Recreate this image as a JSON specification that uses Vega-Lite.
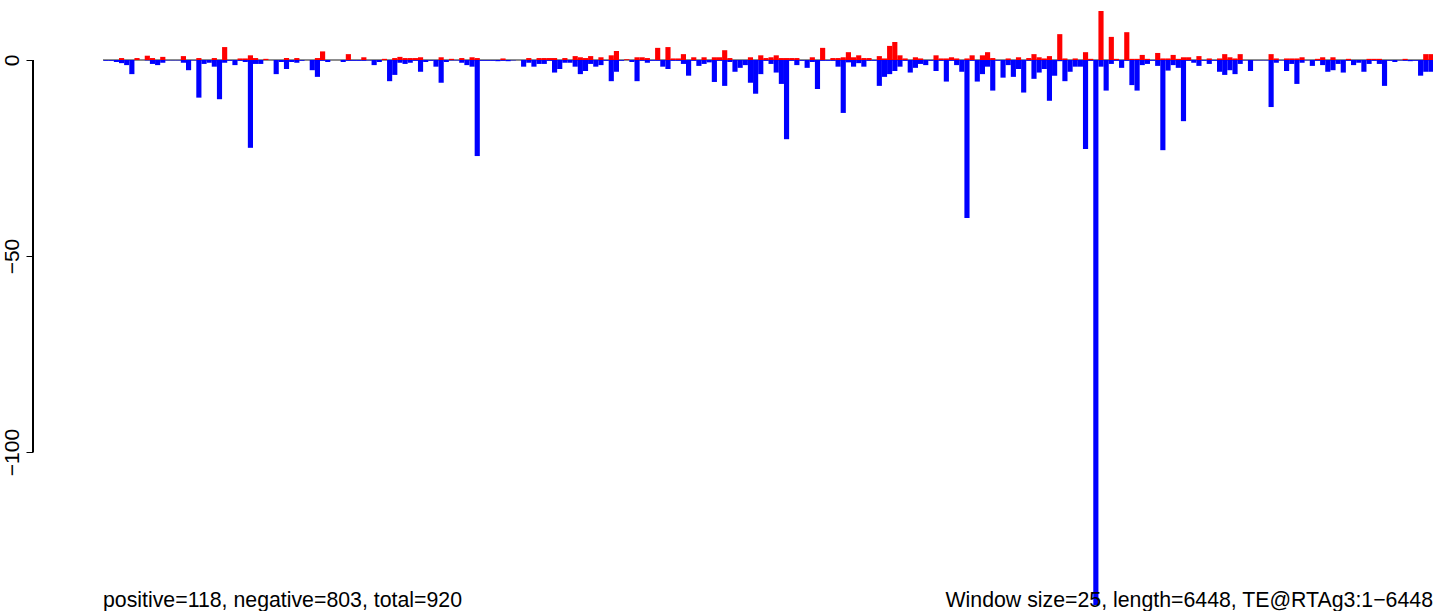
{
  "$schema": "https://vega.github.io/schema/vega-lite/v6.json",
  "width": 1400,
  "height": 611,
  "autosize": {"type": "none"},
  "padding": {"left": 33, "top": 0, "right": 0, "bottom": 0},
  "background": "white",
  "view": {"stroke": null},
  "config": {"font": "Liberation Sans"},
  "data": {"values": [
    {"i":0,"p":0,"n":-0.2},{"i":1,"p":0,"n":-0.2},{"i":2,"p":0,"n":-0.5},{"i":3,"p":0.5,"n":-0.8},{"i":4,"p":0,"n":-1.3},
    {"i":5,"p":0,"n":-3.6},{"i":6,"p":0.5,"n":0},{"i":7,"p":0,"n":0},{"i":8,"p":1.1,"n":-0.1},{"i":9,"p":0.5,"n":-1.0},
    {"i":10,"p":0,"n":-1.3},{"i":11,"p":0.8,"n":-0.7},{"i":12,"p":0,"n":-0.1},{"i":13,"p":0,"n":-0.1},{"i":14,"p":0,"n":-0.1},
    {"i":15,"p":1,"n":-0.7},{"i":16,"p":0,"n":-2.6},{"i":17,"p":0,"n":-0.1},{"i":18,"p":0.5,"n":-9.6},{"i":19,"p":0,"n":-1},
    {"i":20,"p":0,"n":-0.7},{"i":21,"p":0.5,"n":-1.7},{"i":22,"p":0,"n":-10},{"i":23,"p":3.3,"n":-0.7},{"i":24,"p":0,"n":-0.2},
    {"i":25,"p":0,"n":-1.3},{"i":26,"p":0.4,"n":-0.2},{"i":27,"p":0.4,"n":-0.5},{"i":28,"p":1.2,"n":-22.4},{"i":29,"p":0.5,"n":-1},
    {"i":30,"p":0,"n":-1},{"i":31,"p":0.3,"n":0},{"i":32,"p":0,"n":0},{"i":33,"p":0,"n":-3.6},{"i":34,"p":0,"n":-0.5},
    {"i":35,"p":0.5,"n":-2.3},{"i":36,"p":0,"n":-0.5},{"i":37,"p":0.5,"n":-0.7},{"i":38,"p":0,"n":-0.2},{"i":39,"p":0,"n":0},
    {"i":40,"p":0,"n":-2.6},{"i":41,"p":0.5,"n":-4.3},{"i":42,"p":2.2,"n":-0.2},{"i":43,"p":0,"n":-0.5},{"i":44,"p":0,"n":0},
    {"i":45,"p":0,"n":0},{"i":46,"p":0,"n":-0.5},{"i":47,"p":1.5,"n":-0.2},{"i":48,"p":0,"n":-0.2},{"i":49,"p":0,"n":-0.2},
    {"i":50,"p":0.7,"n":-0.2},{"i":51,"p":0,"n":-0.1},{"i":52,"p":0,"n":-1.3},{"i":53,"p":0,"n":-0.5},{"i":54,"p":0.3,"n":0},
    {"i":55,"p":0,"n":-5.4},{"i":56,"p":0.5,"n":-3.8},{"i":57,"p":0.8,"n":-0.7},{"i":58,"p":0.5,"n":-1},{"i":59,"p":0.5,"n":-0.7},
    {"i":60,"p":0.5,"n":-0.2},{"i":61,"p":0.7,"n":-3},{"i":62,"p":0,"n":-0.5},{"i":63,"p":0,"n":-0.2},{"i":64,"p":0,"n":-1.7},
    {"i":65,"p":0.7,"n":-5.8},{"i":66,"p":0,"n":-0.5},{"i":67,"p":0.3,"n":-0.1},{"i":68,"p":0,"n":-0.1},{"i":69,"p":0.5,"n":-0.7},
    {"i":70,"p":0,"n":-1.3},{"i":71,"p":0.7,"n":-1.7},{"i":72,"p":0.5,"n":-24.5},{"i":73,"p":0,"n":-0.2},{"i":74,"p":0,"n":-0.2},
    {"i":75,"p":0,"n":-0.2},{"i":76,"p":0,"n":-0.3},{"i":77,"p":0.4,"n":-0.2},{"i":78,"p":0,"n":-0.3},{"i":79,"p":0,"n":-0.1},
    {"i":80,"p":0,"n":0},{"i":81,"p":0,"n":-1.7},{"i":82,"p":0.5,"n":-0.7},{"i":83,"p":0,"n":-1.7},{"i":84,"p":0.5,"n":-1},
    {"i":85,"p":0.5,"n":-1},{"i":86,"p":0.5,"n":-0.2},{"i":87,"p":0.5,"n":-3.2},{"i":88,"p":0,"n":-2.3},{"i":89,"p":0.5,"n":-0.7},
    {"i":90,"p":0,"n":-0.7},{"i":91,"p":1,"n":-1.7},{"i":92,"p":0.7,"n":-3.6},{"i":93,"p":0.5,"n":-2.8},{"i":94,"p":1,"n":-1},
    {"i":95,"p":0,"n":-1.7},{"i":96,"p":0.7,"n":-1.3},{"i":97,"p":0,"n":-0.2},{"i":98,"p":1.2,"n":-5.4},{"i":99,"p":2.3,"n":-3},
    {"i":100,"p":0,"n":-0.2},{"i":101,"p":0.2,"n":0},{"i":102,"p":0,"n":-0.5},{"i":103,"p":0.7,"n":-5.4},{"i":104,"p":0.7,"n":-0.2},
    {"i":105,"p":0.5,"n":-0.7},{"i":106,"p":0,"n":-0.2},{"i":107,"p":3.1,"n":-0.2},{"i":108,"p":0,"n":-1.7},{"i":109,"p":3.3,"n":-2.3},
    {"i":110,"p":0.4,"n":-0.2},{"i":111,"p":0.4,"n":-0.2},{"i":112,"p":1.5,"n":-1},{"i":113,"p":0,"n":-4},{"i":114,"p":0.7,"n":-0.2},
    {"i":115,"p":0,"n":-1.5},{"i":116,"p":0.7,"n":-1},{"i":117,"p":0,"n":-0.6},{"i":118,"p":0.7,"n":-5.6},{"i":119,"p":0.7,"n":-0.2},
    {"i":120,"p":2.5,"n":-6.6},{"i":121,"p":0.5,"n":-0.5},{"i":122,"p":0,"n":-3},{"i":123,"p":0,"n":-2},{"i":124,"p":0,"n":-1.3},
    {"i":125,"p":0.7,"n":-5.8},{"i":126,"p":0,"n":-8.6},{"i":127,"p":1.2,"n":-3.6},{"i":128,"p":0.5,"n":-0.2},{"i":129,"p":0.7,"n":-1},
    {"i":130,"p":1.2,"n":-3.2},{"i":131,"p":0.5,"n":-6.1},{"i":132,"p":0.5,"n":-20.2},{"i":133,"p":0.5,"n":-0.2},{"i":134,"p":0.5,"n":-1.3},
    {"i":135,"p":0,"n":-0.2},{"i":136,"p":0,"n":-2},{"i":137,"p":0.7,"n":-0.5},{"i":138,"p":0,"n":-7.4},{"i":139,"p":3.1,"n":-0.2},
    {"i":140,"p":0,"n":-0.2},{"i":141,"p":0.5,"n":-0.2},{"i":142,"p":0.5,"n":-1.7},{"i":143,"p":0.7,"n":-13.5},{"i":144,"p":2,"n":-0.6},
    {"i":145,"p":0.7,"n":-1.7},{"i":146,"p":1.2,"n":-0.8},{"i":147,"p":0.5,"n":-1.7},{"i":148,"p":0.5,"n":-0.2},{"i":149,"p":0,"n":-0.2},
    {"i":150,"p":1,"n":-6.6},{"i":151,"p":0.4,"n":-4.3},{"i":152,"p":3.6,"n":-3.6},{"i":153,"p":4.6,"n":-2.8},{"i":154,"p":1.2,"n":-1.7},
    {"i":155,"p":0.4,"n":-0.2},{"i":156,"p":0,"n":-3.2},{"i":157,"p":0.7,"n":-2},{"i":158,"p":0.4,"n":-1},{"i":159,"p":0,"n":-1.3},
    {"i":160,"p":0,"n":-0.2},{"i":161,"p":1.2,"n":-2.8},{"i":162,"p":0.4,"n":-0.2},{"i":163,"p":0.4,"n":-5.5},{"i":164,"p":0.7,"n":-0.2},
    {"i":165,"p":0.4,"n":-1.3},{"i":166,"p":0,"n":-3},{"i":167,"p":0.4,"n":-40.3},{"i":168,"p":1.2,"n":-0.2},{"i":169,"p":0,"n":-5.5},
    {"i":170,"p":1.2,"n":-3.6},{"i":171,"p":2,"n":-1.7},{"i":172,"p":0.5,"n":-7.8},{"i":173,"p":0,"n":-0.2},{"i":174,"p":0,"n":-4.5},
    {"i":175,"p":0.4,"n":-1.3},{"i":176,"p":0,"n":-4.3},{"i":177,"p":0.7,"n":-2.3},{"i":178,"p":0,"n":-8.3},{"i":179,"p":0.5,"n":-0.2},
    {"i":180,"p":1.5,"n":-4.8},{"i":181,"p":0.7,"n":-3.2},{"i":182,"p":0.4,"n":-2.3},{"i":183,"p":1,"n":-10.4},{"i":184,"p":0,"n":-4},
    {"i":185,"p":6.6,"n":-0.3},{"i":186,"p":0.4,"n":-5.4},{"i":187,"p":0,"n":-3},{"i":188,"p":0.4,"n":-1.7},{"i":189,"p":0,"n":-1.7},
    {"i":190,"p":2,"n":-22.7},{"i":191,"p":0.3,"n":-0.2},{"i":192,"p":0,"n":-139},{"i":193,"p":12.5,"n":-1.7},{"i":194,"p":0,"n":-7.8},
    {"i":195,"p":5.9,"n":-1},{"i":196,"p":0.3,"n":-0.2},{"i":197,"p":0,"n":-2},{"i":198,"p":7.1,"n":-0.2},{"i":199,"p":0.3,"n":-6.4},
    {"i":200,"p":0.3,"n":-7.8},{"i":201,"p":1.3,"n":-1.3},{"i":202,"p":0.3,"n":-1},{"i":203,"p":0,"n":-0.2},{"i":204,"p":1.8,"n":-1.5},
    {"i":205,"p":0.4,"n":-23},{"i":206,"p":0.4,"n":-2.7},{"i":207,"p":1.3,"n":-1.3},{"i":208,"p":0.3,"n":-2},{"i":209,"p":0.7,"n":-15.6},
    {"i":210,"p":0.7,"n":-0.2},{"i":211,"p":0,"n":-0.7},{"i":212,"p":1,"n":-1.5},{"i":213,"p":0,"n":-0.2},{"i":214,"p":0.4,"n":-1},
    {"i":215,"p":0,"n":-0.2},{"i":216,"p":0.4,"n":-3},{"i":217,"p":1.5,"n":-3.8},{"i":218,"p":0.7,"n":-2.6},{"i":219,"p":0.4,"n":-3.6},
    {"i":220,"p":1.5,"n":-1},{"i":221,"p":0,"n":-0.1},{"i":222,"p":0,"n":-2.8},{"i":223,"p":0,"n":-0.1},{"i":224,"p":0,"n":-0.1},
    {"i":225,"p":0,"n":-0.1},{"i":226,"p":1.5,"n":-12},{"i":227,"p":0.4,"n":-0.7},{"i":228,"p":0,"n":-0.1},{"i":229,"p":0.4,"n":-2.8},
    {"i":230,"p":0.4,"n":-1},{"i":231,"p":0.4,"n":-6.1},{"i":232,"p":0.7,"n":-0.7},{"i":233,"p":0,"n":-0.1},{"i":234,"p":0,"n":-1.5},
    {"i":235,"p":0.3,"n":-0.2},{"i":236,"p":0.7,"n":-1.3},{"i":237,"p":0,"n":-3},{"i":238,"p":0.7,"n":-2.6},{"i":239,"p":0,"n":-1},
    {"i":240,"p":0,"n":-3.2},{"i":241,"p":0.3,"n":-0.2},{"i":242,"p":0,"n":-1.3},{"i":243,"p":0,"n":-0.7},{"i":244,"p":0,"n":-3},
    {"i":245,"p":0.3,"n":-1},{"i":246,"p":0.3,"n":-0.2},{"i":247,"p":0.3,"n":-1},{"i":248,"p":0,"n":-6.6},{"i":249,"p":0,"n":-0.2},
    {"i":250,"p":0,"n":-0.5},{"i":251,"p":0,"n":-0.1},{"i":252,"p":0.3,"n":-0.2},{"i":253,"p":0,"n":-0.3},{"i":254,"p":0,"n":-0.2},
    {"i":255,"p":0,"n":-4},{"i":256,"p":1.5,"n":-3},{"i":257,"p":1.5,"n":-3}
  ]},
  "encoding": {
    "y": {"type": "quantitative", "scale": {"domain": [-140.56, 15.31], "nice": false, "zero": false}}
  },
  "layer": [
    {
      "mark": {"type": "rule", "color": "#8c8c8c", "strokeWidth": 1},
      "encoding": {
        "x": {"datum": 0, "type": "quantitative", "scale": {"domain": [-13.58, 258], "nice": false, "zero": false}, "axis": null},
        "x2": {"datum": 258},
        "y": {"datum": 0, "type": "quantitative", "axis": {"values": [0, -50, -100], "grid": false, "domain": false, "tickSize": 7, "tickColor": "black", "tickWidth": 1, "labelAngle": -90, "labelFontSize": 21, "labelColor": "black", "labelFont": "Liberation Sans", "labelPadding": 4, "title": null}}
      }
    },
    {
      "mark": {"type": "rule", "color": "black", "strokeWidth": 1},
      "encoding": {
        "x": {"datum": -13.58, "type": "quantitative"},
        "y": {"datum": 0, "type": "quantitative"},
        "y2": {"datum": -100}
      }
    },
    {
      "mark": {"type": "bar", "color": "#0000FF", "stroke": null, "binSpacing": 0},
      "encoding": {
        "x": {"field": "i", "type": "quantitative", "bin": {"binned": true, "step": 1}},
        "y": {"field": "n", "type": "quantitative"}
      }
    },
    {
      "mark": {"type": "bar", "color": "#FF0000", "stroke": null, "binSpacing": 0},
      "encoding": {
        "x": {"field": "i", "type": "quantitative", "bin": {"binned": true, "step": 1}},
        "y": {"field": "p", "type": "quantitative"}
      }
    },
    {
      "data": {"values": [{"label": "positive=118, negative=803, total=920"}]},
      "mark": {"type": "text", "align": "left", "baseline": "alphabetic", "fontSize": 21.3, "font": "Liberation Sans", "color": "black"},
      "encoding": {
        "x": {"datum": 0, "type": "quantitative"},
        "y": {"datum": -139.5, "type": "quantitative"},
        "text": {"field": "label"}
      }
    },
    {
      "data": {"values": [{"label": "Window size=25, length=6448, TE@RTAg3:1\u22126448"}]},
      "mark": {"type": "text", "align": "right", "baseline": "alphabetic", "fontSize": 21.3, "font": "Liberation Sans", "color": "black"},
      "encoding": {
        "x": {"datum": 258, "type": "quantitative"},
        "y": {"datum": -139.5, "type": "quantitative"},
        "text": {"field": "label"}
      }
    }
  ]
}
